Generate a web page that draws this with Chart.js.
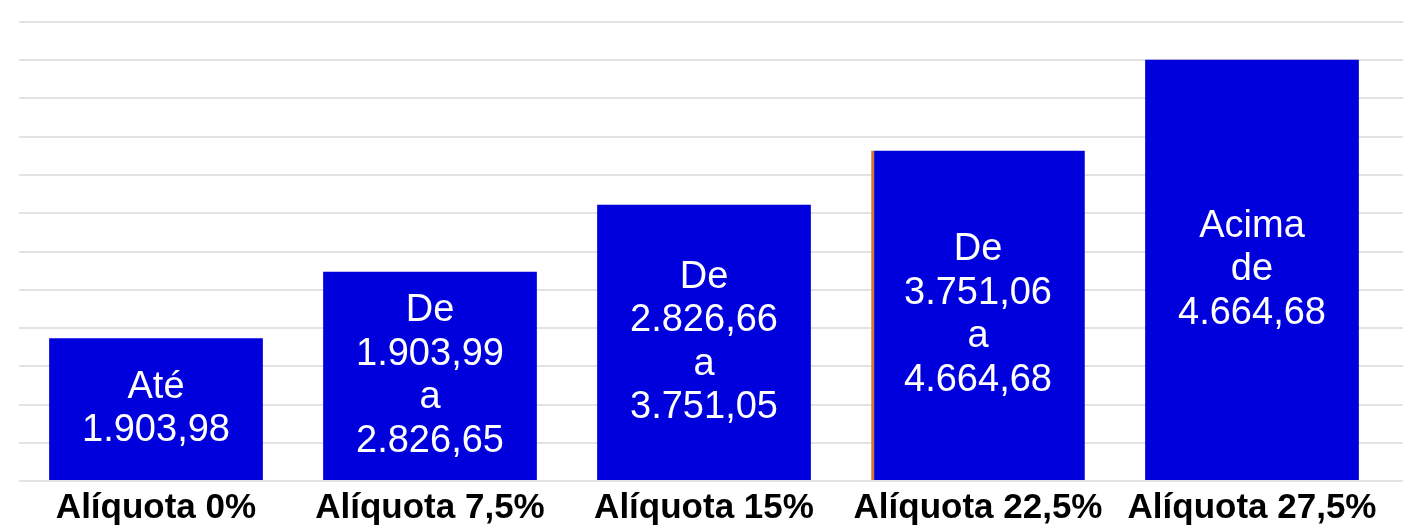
<!DOCTYPE html>
<html>
<head>
<meta charset="utf-8">
<script src="https://cdn.jsdelivr.net/npm/chart.js@4/dist/chart.umd.min.js"></script>
<style>
  html, body { margin: 0; padding: 0; background: #ffffff; overflow: hidden; }
  canvas { display: block; }
</style>
</head>
<body>
<canvas id="aliquotaChart" width="1403" height="535"></canvas>
<script>
// Faixas do IR - categorias (eixo x)
const categorias = ["Alíquota 0%", "Alíquota 7,5%", "Alíquota 15%", "Alíquota 22,5%", "Alíquota 27,5%"];

// Altura das barras (em unidades da grade)
const alturas = [3.73, 5.47, 7.22, 8.64, 11.01];

// Textos dentro das barras
const faixas = [
    ["Até", "1.903,98"],
    ["De", "1.903,99", "a", "2.826,65"],
    ["De", "2.826,66", "a", "3.751,05"],
    ["De", "3.751,06", "a", "4.664,68"],
    ["Acima", "de", "4.664,68"]
];

// Plugin que escreve o texto de cada faixa no meio da barra
const textoNasBarras = {
    id: "textoNasBarras",
    afterDatasetsDraw(chart) {
        const ctx = chart.ctx;
        const meta = chart.getDatasetMeta(0);
        const lineHeight = 43.5;
        ctx.save();
        ctx.fillStyle = "#ffffff";
        ctx.font = "38px 'Liberation Sans', Arial, sans-serif";
        ctx.textAlign = "center";
        ctx.textBaseline = "middle";
        meta.data.forEach((bar, i) => {
            const linhas = faixas[i];
            const meio = (bar.y + bar.base) / 2;
            const inicio = meio - (linhas.length - 1) * lineHeight / 2;
            linhas.forEach((linha, j) => {
                ctx.fillText(linha, bar.x, inicio + j * lineHeight);
            });
        });
        ctx.restore();
    }
};

const ctx = document.getElementById("aliquotaChart").getContext("2d");
new Chart(ctx, {
    type: "bar",
    data: {
        labels: categorias,
        datasets: [{
            data: alturas,
            backgroundColor: "#0000dc",
            borderColor: ["#0000dc", "#0000dc", "#0000dc", "#d07a30", "#0000dc"],
            borderWidth: [0, 0, 0, { left: 3, right: 0, top: 0, bottom: 0 }, 0],
            borderSkipped: false,
            categoryPercentage: 1,
            barPercentage: 0.78
        }]
    },
    options: {
        responsive: false,
        animation: false,
        layout: {
            padding: { top: 22, left: 19, right: 0, bottom: 0 }
        },
        plugins: {
            legend: { display: false },
            tooltip: { enabled: false }
        },
        scales: {
            x: {
                grid: { display: false, drawTicks: false },
                border: { display: false },
                ticks: {
                    color: "#000000",
                    padding: 6,
                    maxRotation: 0,
                    autoSkip: false,
                    font: { family: "'Liberation Sans', Arial, sans-serif", size: 35, weight: "bold" }
                }
            },
            y: {
                position: "right",
                min: 0,
                max: 12,
                ticks: { display: false, stepSize: 1 },
                border: { display: false },
                grid: {
                    color: "#e2e2e2",
                    lineWidth: 2,
                    drawTicks: true,
                    tickLength: 14,
                    tickColor: "#e2e2e2"
                }
            }
        }
    },
    plugins: [textoNasBarras]
});
</script>
</body>
</html>
